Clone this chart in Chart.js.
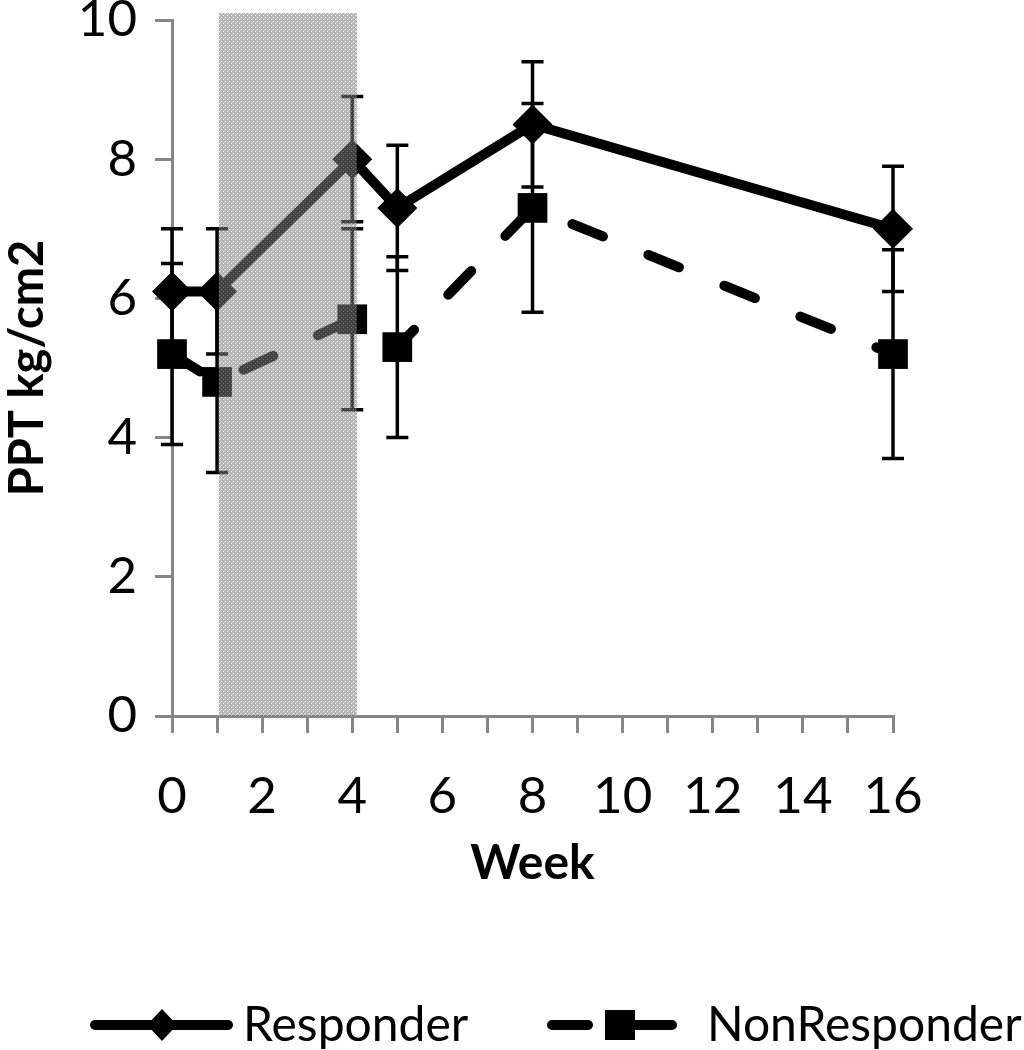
<!DOCTYPE html>
<html>
<head>
<meta charset="utf-8">
<script src="https://cdn.jsdelivr.net/npm/chart.js@4.4.1/dist/chart.umd.min.js"></script>
<style>
  html, body { margin: 0; padding: 0; background: #ffffff; }
  #wrap { width: 1024px; height: 1050px; position: relative; }
</style>
</head>
<body>
<div id="wrap"><canvas id="c" width="1024" height="1050"></canvas></div>
<script>
// ---- data ----
const weeks = [0, 1, 4, 5, 8, 16];
const responder = [6.1, 6.1, 8.0, 7.3, 8.5, 7.0];
const responderErr = [0.9, 0.9, 0.9, 0.9, 0.9, 0.9];
const nonResponder = [5.2, 4.8, 5.7, 5.3, 7.3, 5.2];
const nonResponderErr = [1.3, 1.3, 1.3, 1.3, 1.5, 1.5];
const seriesNames = ['Responder', 'NonResponder'];
const xLabelTicks = [0, 2, 4, 6, 8, 10, 12, 14, 16];
const shadedWeeks = [1.04, 4.1];
const shadedTop = 10.1;
const xTitle = 'Week';
const yTitle = 'PPT kg/cm2';

const FONT = 'Lato, "Open Sans", "Liberation Sans", sans-serif';
const AXIS_GRAY = '#868686';

function toPoints(xs, ys) { return xs.map((x, i) => ({ x: x, y: ys[i] })); }

// cross-hatch pattern for shaded period
function makePattern(ctx) {
  const t = document.createElement('canvas');
  t.width = 4; t.height = 4;
  const c = t.getContext('2d');
  c.fillStyle = 'rgba(120,120,120,0.55)';
  c.fillRect(0, 0, 4, 4);
  c.clearRect(1, 1, 1, 1);
  c.clearRect(3, 3, 1, 1);
  c.fillStyle = 'rgba(235,235,235,0.5)';
  c.fillRect(1, 1, 1, 1);
  c.fillRect(3, 3, 1, 1);
  c.clearRect(0, 2, 1, 1);
  c.fillStyle = 'rgba(150,150,150,0.45)';
  c.fillRect(0, 2, 1, 1);
  return ctx.createPattern(t, 'repeat');
}

const errorBarPlugin = {
  id: 'errorBars',
  beforeDatasetsDraw(chart) {
    const ctx = chart.ctx;
    const xs = chart.scales.x, ys = chart.scales.y;
    ctx.save();
    ctx.strokeStyle = '#000';
    ctx.lineWidth = 3.5;
    chart.data.datasets.forEach(ds => {
      const errs = ds.errors || [];
      ds.data.forEach((p, i) => {
        const e = errs[i];
        if (e == null) return;
        const px = xs.getPixelForValue(p.x);
        const top = ys.getPixelForValue(p.y + e);
        const bot = ys.getPixelForValue(p.y - e);
        ctx.beginPath();
        ctx.moveTo(px, top); ctx.lineTo(px, bot);
        ctx.moveTo(px - 11, top); ctx.lineTo(px + 11, top);
        ctx.moveTo(px - 11, bot); ctx.lineTo(px + 11, bot);
        ctx.stroke();
      });
    });
    ctx.restore();
  }
};

const bandPlugin = {
  id: 'band',
  afterDatasetsDraw(chart) {
    const ctx = chart.ctx;
    const xs = chart.scales.x, ys = chart.scales.y;
    const x1 = xs.getPixelForValue(shadedWeeks[0]);
    const x2 = xs.getPixelForValue(shadedWeeks[1]);
    const y1 = ys.getPixelForValue(shadedTop);
    const y2 = ys.getPixelForValue(0);
    ctx.save();
    ctx.fillStyle = makePattern(ctx);
    ctx.fillRect(x1, y1, x2 - x1, y2 - y1);
    ctx.restore();
  }
};

const legendPlugin = {
  id: 'customLegend',
  afterDraw(chart) {
    const ctx = chart.ctx;
    const ds = chart.data.datasets;
    const y = 1025;
    ctx.save();
    ctx.strokeStyle = '#000';
    ctx.fillStyle = '#000';
    ctx.lineWidth = 10;
    ctx.lineCap = 'round';
    // Responder sample
    ctx.beginPath(); ctx.moveTo(95, y); ctx.lineTo(228, y); ctx.stroke();
    ctx.beginPath();
    ctx.moveTo(162, y - 16); ctx.lineTo(177, y); ctx.lineTo(162, y + 16); ctx.lineTo(147, y);
    ctx.closePath(); ctx.fill();
    // NonResponder sample
    ctx.beginPath(); ctx.moveTo(552, y); ctx.lineTo(588, y); ctx.stroke();
    ctx.beginPath(); ctx.moveTo(622, y); ctx.lineTo(672, y); ctx.stroke();
    ctx.fillRect(605, y - 15, 30, 30);
    ctx.font = '48px ' + FONT;
    ctx.textBaseline = 'alphabetic';
    ctx.textAlign = 'left';
    ctx.fillText(ds[0].label, 243, 1041);
    ctx.fillText(ds[1].label, 707, 1041);
    ctx.restore();
  }
};

const chart = new Chart(document.getElementById('c'), {
  type: 'line',
  data: {
    datasets: [
      {
        label: seriesNames[0],
        data: toPoints(weeks, responder),
        errors: responderErr,
        clip: false,
        borderColor: '#000',
        backgroundColor: '#000',
        borderWidth: 10,
        pointStyle: 'rectRot',
        pointRadius: 20,
        pointHoverRadius: 20,
        pointBackgroundColor: '#000',
        pointBorderWidth: 0,
        tension: 0,
        fill: false
      },
      {
        label: seriesNames[1],
        data: toPoints(weeks, nonResponder),
        errors: nonResponderErr,
        clip: false,
        borderColor: '#000',
        backgroundColor: '#000',
        borderWidth: 10,
        borderDash: [33, 49],
        borderCapStyle: 'round',
        pointStyle: 'rect',
        pointRadius: 21,
        pointHoverRadius: 21,
        pointBackgroundColor: '#000',
        pointBorderWidth: 0,
        tension: 0,
        fill: false
      }
    ]
  },
  options: {
    responsive: false,
    animation: false,
    events: [],
    layout: { autoPadding: false, padding: { left: 0, right: 131, top: 20, bottom: 154 } },
    plugins: { legend: { display: false }, tooltip: { enabled: false }, title: { display: false } },
    scales: {
      x: {
        type: 'linear',
        min: 0, max: 16,
        offset: false,
        border: { color: AXIS_GRAY, width: 3 },
        grid: { drawOnChartArea: false, drawTicks: true, tickLength: 17, color: AXIS_GRAY, lineWidth: 3 },
        ticks: {
          stepSize: 1,
          autoSkip: false,
          maxRotation: 0,
          padding: 33,
          color: '#000',
          font: { family: FONT, size: 51 },
          callback: v => xLabelTicks.includes(v) ? String(v) : ''
        },
        title: { display: true, text: xTitle, color: '#000', padding: { top: 0, bottom: 4 }, font: { family: FONT, size: 48, weight: 'bold' } },
        afterFit(scale) { scale.height = 180; scale.paddingLeft = 0; scale.paddingRight = 0; }
      },
      y: {
        min: 0, max: 10,
        border: { color: AXIS_GRAY, width: 3 },
        grid: { drawOnChartArea: false, drawTicks: true, tickLength: 17, color: AXIS_GRAY, lineWidth: 3 },
        ticks: { stepSize: 2, padding: 18, color: '#000', font: { family: FONT, size: 51 } },
        title: { display: true, text: yTitle, color: '#000', padding: { top: 0, bottom: 0 }, font: { family: FONT, size: 47, weight: 'bold' } },
        afterFit(scale) { scale.width = 172; scale.paddingTop = 0; scale.paddingBottom = 0; }
      }
    }
  },
  plugins: [errorBarPlugin, bandPlugin, legendPlugin]
});
</script>
</body>
</html>
